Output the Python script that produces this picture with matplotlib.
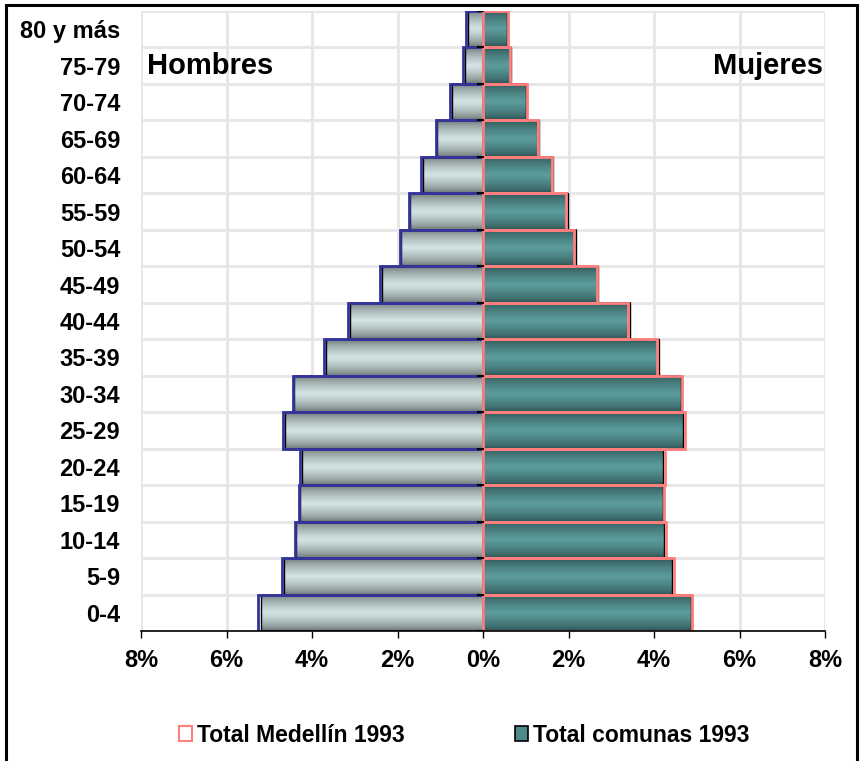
import numpy as np
import matplotlib
matplotlib.use("Agg")
import matplotlib.pyplot as plt
from matplotlib.colors import LinearSegmentedColormap
from matplotlib.patches import Patch, Rectangle
from matplotlib.ticker import FuncFormatter

plt.rcParams['font.family'] = ['Liberation Sans', 'DejaVu Sans']
plt.rcParams['font.weight'] = 'bold'

# age groups, bottom to top
grupos = ['0-4', '5-9', '10-14', '15-19', '20-24', '25-29', '30-34', '35-39',
          '40-44', '45-49', '50-54', '55-59', '60-64', '65-69', '70-74',
          '75-79', '80 y más']

# percentages
medellin_hombres = [5.27, 4.70, 4.39, 4.31, 4.29, 4.67, 4.45, 3.71, 3.15,
                    2.41, 1.95, 1.74, 1.44, 1.11, 0.77, 0.47, 0.39]
comunas_hombres = [5.20, 4.66, 4.37, 4.27, 4.24, 4.62, 4.42, 3.67, 3.12,
                   2.37, 1.91, 1.70, 1.41, 1.07, 0.73, 0.43, 0.35]
medellin_mujeres = [4.89, 4.46, 4.27, 4.24, 4.25, 4.73, 4.65, 4.07, 3.39,
                    2.66, 2.14, 1.95, 1.61, 1.29, 1.02, 0.63, 0.59]
comunas_mujeres = [4.86, 4.43, 4.24, 4.21, 4.21, 4.68, 4.62, 4.12, 3.44,
                   2.69, 2.18, 1.99, 1.64, 1.32, 1.00, 0.65, 0.56]

xticks = [-8, -6, -4, -2, 0, 2, 4, 6, 8]

cmap_h = LinearSegmentedColormap.from_list('h', ['#5f6a6a', '#d3e3e3'])
cmap_m = LinearSegmentedColormap.from_list('m', ['#2a4c4c', '#5c9c9c'])

fig = plt.figure(figsize=(8.61, 7.61), dpi=100)
ax = fig.add_axes([141 / 861, 1 - 631 / 761, 684 / 861, 620 / 761])

y = np.arange(len(grupos))
h = 1.0

# vertical gradient: dark at the edges, light in the middle
t = np.linspace(0, 1, 64)
grad = (1 - np.abs(2 * t - 1)) ** 0.6
grad = grad.reshape(-1, 1)

for i in range(len(grupos)):
    # men (left)
    ax.imshow(grad, extent=[-comunas_hombres[i], 0, y[i] - h / 2, y[i] + h / 2],
              cmap=cmap_h, aspect='auto', origin='lower', zorder=2, interpolation='bilinear')
    # women (right)
    ax.imshow(grad, extent=[0, comunas_mujeres[i], y[i] - h / 2, y[i] + h / 2],
              cmap=cmap_m, aspect='auto', origin='lower', zorder=2, interpolation='bilinear')

# comunas edges
ax.barh(y, -np.array(comunas_hombres), height=h, fill=False, edgecolor='black', linewidth=1.0, zorder=3)
ax.barh(y, comunas_mujeres, height=h, fill=False, edgecolor='black', linewidth=1.0, zorder=3)
# Medellin outlines
ax.barh(y, -np.array(medellin_hombres), height=h, fill=False, edgecolor='#333399', linewidth=2.0, zorder=4)
ax.barh(y, medellin_mujeres, height=h, fill=False, edgecolor='#ff7f7f', linewidth=2.0, zorder=4)

ax.set_xlim(-8, 8)
ax.set_ylim(-0.5, len(grupos) - 0.5)

# grid
for v in xticks:
    ax.axvline(v, color='#e6e6e6', lw=2, zorder=0)
for b in np.arange(-0.5, len(grupos), 1.0):
    ax.axhline(b, color='#e6e6e6', lw=2, zorder=0)
    # small category ticks on the centre axis
    ax.plot([-0.12, 0], [b, b], color='black', lw=1.5, zorder=5)

ax.set_xticks(xticks)
ax.xaxis.set_major_formatter(FuncFormatter(lambda v, p: f"{abs(int(v))}%"))
ax.set_yticks(y)
ax.set_yticklabels(grupos)
ax.tick_params(axis='y', length=0, pad=15, labelsize=17)
ax.tick_params(axis='x', length=5, width=1, pad=8, labelsize=17, direction='out')
for s in ['left', 'right', 'top']:
    ax.spines[s].set_visible(False)
ax.spines['bottom'].set_linewidth(1.2)
ax.spines['bottom'].set_zorder(5)

ax.text(-7.85, 15, 'Hombres', fontsize=21, fontweight='bold', va='center', ha='left')
ax.text(7.95, 15, 'Mujeres', fontsize=21, fontweight='bold', va='center', ha='right')

handles = [Patch(facecolor='white', edgecolor='#ff7f7f', linewidth=1.5, label='Total Medellín 1993'),
           Patch(facecolor='#4f8a8a', edgecolor='black', linewidth=1.2, label='Total comunas 1993')]
fig.legend(handles=handles, loc='center', bbox_to_anchor=(464 / 861, 1 - 735 / 761), ncol=2,
           frameon=False, fontsize=16.5, handlelength=0.6, handleheight=0.6,
           handletextpad=0.2, columnspacing=4.8, borderpad=0, borderaxespad=0)

# outer border
fig.patches.append(Rectangle((6 / 861, -0.02), 851 / 861, 1 - 5 / 761 + 0.02,
                             transform=fig.transFigure, fill=False,
                             edgecolor='black', linewidth=2.2))

fig.savefig('out.png', dpi=100)
